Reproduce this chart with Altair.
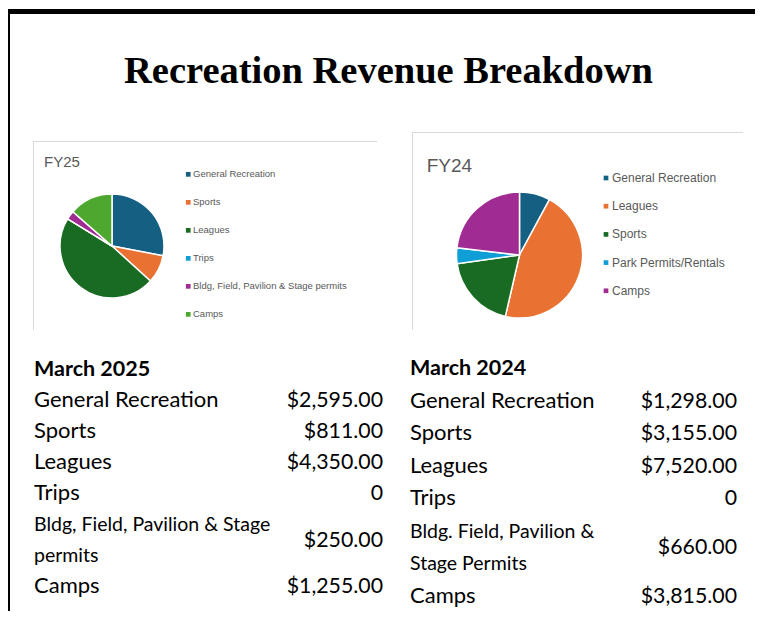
import altair as alt
import pandas as pd

# ---------------- data ----------------
title_text = "Recreation Revenue Breakdown"

fy25_title = "FY25"
fy25_categories = ["General Recreation", "Sports", "Leagues", "Trips",
                   "Bldg, Field, Pavilion & Stage permits", "Camps"]
fy25_values = [2595, 811, 4350, 0, 250, 1255]
fy25_colors = ["#156082", "#E97132", "#196B24", "#0F9ED5", "#A02B93", "#4EA72E"]

fy24_title = "FY24"
fy24_categories = ["General Recreation", "Leagues", "Sports",
                   "Park Permits/Rentals", "Camps"]
fy24_values = [1298, 7520, 3155, 660, 3815]
fy24_colors = ["#156082", "#E97132", "#196B24", "#0F9ED5", "#A02B93"]

table25_header = "March 2025"
table25_labels = ["General Recreation", "Sports", "Leagues", "Trips",
                  "Bldg, Field, Pavilion & Stage\npermits", "Camps"]
table25_amounts = ["$2,595.00", "$811.00", "$4,350.00", "0", "$250.00", "$1,255.00"]

table24_header = "March 2024"
table24_labels = ["General Recreation", "Sports", "Leagues", "Trips",
                  "Bldg. Field, Pavilion &\nStage Permits", "Camps"]
table24_amounts = ["$1,298.00", "$3,155.00", "$7,520.00", "0", "$660.00", "$3,815.00"]

# ---------------- helpers ----------------
W, H = 747, 603
TEXT_FONT = "Lato"
one = pd.DataFrame({"k": [0]})


def pie_frame(cats, vals):
    return pd.DataFrame({"category": cats, "value": vals, "idx": list(range(len(cats)))})


def table_frames(header, labels, amounts):
    lines = [{"text": header, "line": 0, "kind": "header"}]
    amts = []
    line = 1
    for lab, amt in zip(labels, amounts):
        parts = lab.split("\n")
        start = line
        for p in parts:
            lines.append({"text": p, "line": line, "kind": "wrap" if len(parts) > 1 else "row"})
            line += 1
        amts.append({"text": amt, "line": (start + line - 1) / 2})
    return pd.DataFrame(lines), pd.DataFrame(amts)


def rect(x, x2, y, y2, color):
    return alt.Chart(one).mark_rect(color=color).encode(
        x=alt.value(x), x2=alt.value(x2), y=alt.value(y), y2=alt.value(y2))


def pie(cats, vals, colors, cx, cy, r, lx, ly, fs, rowpad, offset):
    df = pie_frame(cats, vals)
    return alt.Chart(df).mark_arc(outerRadius=r, stroke="white", strokeWidth=1.5).encode(
        theta=alt.Theta("value:Q", stack=True),
        order=alt.Order("idx:Q"),
        color=alt.Color("category:N",
                        scale=alt.Scale(domain=cats, range=colors),
                        legend=alt.Legend(title=None, orient="none", legendX=lx, legendY=ly,
                                          symbolType="square", symbolSize=22,
                                          symbolStrokeWidth=0,
                                          labelFont="Liberation Sans", labelFontSize=fs,
                                          labelColor="#595959", labelOffset=offset,
                                          rowPadding=rowpad, padding=0, labelLimit=400)),
        x=alt.value(cx), y=alt.value(cy))


def table(header, labels, amounts, lx, rx, y0, y7):
    lines, amts = table_frames(header, labels, amounts)
    ysc = alt.Scale(domain=[0, 7], range=[y0, y7], nice=False, zero=False)
    head = alt.Chart(lines[lines.kind == "header"]).mark_text(
        align="left", baseline="alphabetic", font=TEXT_FONT, fontWeight="bold",
        fontSize=21.5, color="black").encode(
        y=alt.Y("line:Q", scale=ysc, axis=None), x=alt.value(lx), text="text:N")
    rows = alt.Chart(lines[lines.kind == "row"]).mark_text(
        align="left", baseline="alphabetic", font=TEXT_FONT,
        fontSize=22, color="black").encode(
        y=alt.Y("line:Q", scale=ysc, axis=None), x=alt.value(lx), text="text:N")
    wraps = alt.Chart(lines[lines.kind == "wrap"]).mark_text(
        align="left", baseline="alphabetic", font=TEXT_FONT,
        fontSize=19.5, color="black").encode(
        y=alt.Y("line:Q", scale=ysc, axis=None), x=alt.value(lx), text="text:N")
    vals = alt.Chart(amts).mark_text(
        align="right", baseline="alphabetic", font=TEXT_FONT,
        fontSize=21.3, color="black").encode(
        y=alt.Y("line:Q", scale=ysc, axis=None), x=alt.value(rx), text="text:N")
    return [head, rows, wraps, vals]


def label(txt, x, y, size, color, font, weight="normal", align="left"):
    return alt.Chart(pd.DataFrame({"t": [txt]})).mark_text(
        align=align, baseline="alphabetic", font=font, fontSize=size,
        fontWeight=weight, color=color).encode(
        x=alt.value(x), y=alt.value(y), text="t:N")


layers = [
    # black frame
    rect(0, W, 1, 6, "black"),
    rect(0, 2, 1, H, "black"),
    # chart screenshot frames
    rect(25, 369, 133, 134, "#d9d9d9"),
    rect(25, 26, 133, 322, "#d9d9d9"),
    rect(404, 735, 124, 125, "#d9d9d9"),
    rect(404, 405, 124, 322, "#d9d9d9"),
    label(title_text, 380.5, 75, 38.5, "black", "Liberation Serif", "bold", "center"),
    label(fy25_title, 36, 158.7, 15, "#595959", "Liberation Sans"),
    label(fy24_title, 418.7, 164.3, 19, "#595959", "Liberation Sans"),
    pie(fy25_categories, fy25_values, fy25_colors, 104, 238, 52, 175.5, 161.6, 9.5, 17, 0),
    pie(fy24_categories, fy24_values, fy24_colors, 511.5, 247, 63, 592, 164, 12, 16.2, 0),
]
layers += table(table25_header, table25_labels, table25_amounts, 26, 375, 368, 585)
layers += table(table24_header, table24_labels, table24_amounts, 402, 729, 367, 594.5)

chart = alt.layer(*layers).resolve_scale(
    theta="independent", color="independent", x="independent", y="independent",
    size="independent"
).properties(
    width=W, height=H, padding=0, background="white",
    autosize=alt.AutoSizeParams(type="none")
).configure_view(stroke=None)

chart.save("out.html", embed_options={"renderer": "svg", "actions": False})
